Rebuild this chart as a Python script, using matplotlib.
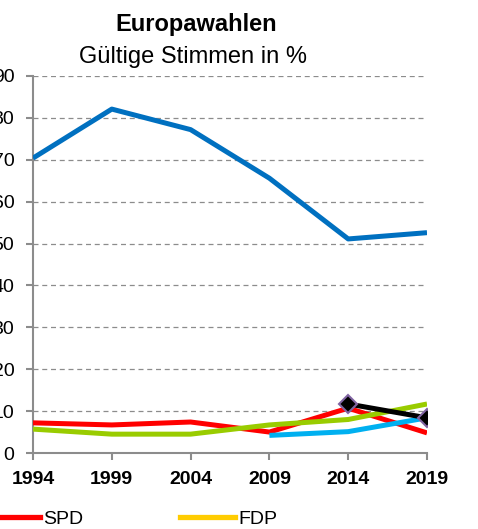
import matplotlib
matplotlib.use("Agg")
import matplotlib.pyplot as plt
from matplotlib.lines import Line2D

plt.rcParams['font.family'] = ['Liberation Sans', 'DejaVu Sans']

years = [1994, 1999, 2004, 2009, 2014, 2019]
blue = [70.4, 82.1, 77.2, 65.6, 51.1, 52.6]
spd = [7.2, 6.7, 7.4, 5.0, 10.7, 4.8]
green = [5.7, 4.5, 4.5, 6.7, 8.0, 11.7]
cyan_years = [2009, 2014, 2019]
cyan = [4.2, 5.1, 8.4]
black_years = [2014, 2019]
black = [11.7, 8.4]
yticks = [0, 10, 20, 30, 40, 50, 60, 70, 80, 90]
legend_labels = ["SPD", "FDP"]

fig = plt.figure(figsize=(4.78, 5.29), dpi=100)
ax = fig.add_axes([33/478, 1-453/529, (427-33)/478, (453-76)/529])

ax.plot(years, blue, color='#0070C0', lw=3.6, solid_capstyle='butt', zorder=3)
ax.plot(years, spd, color='#FF0000', lw=3.6, solid_capstyle='butt', zorder=3)
ax.plot(years, green, color='#99CC00', lw=3.6, solid_capstyle='butt', zorder=4)
ax.plot(cyan_years, cyan, color='#00B0F0', lw=3.6, solid_capstyle='butt', zorder=3)
ax.plot(black_years, black, color='black', lw=3.6, marker='D', markersize=9,
        markerfacecolor='black', markeredgecolor='#8064A2', markeredgewidth=1.5, zorder=5)

ax.set_xlim(1994, 2019)
ax.set_ylim(0, 90)
ax.set_xticks(years)
ax.set_xticklabels([str(y) for y in years], fontweight='bold', fontsize=14)
ax.set_yticks(yticks)
ax.set_yticklabels([str(v) for v in yticks], fontsize=14)
ax.yaxis.grid(True, linestyle=(0, (4, 3)), color='#8C8C8C', lw=0.9)
ax.set_axisbelow(True)
for s in ['top', 'right']:
    ax.spines[s].set_visible(False)
for s in ['left', 'bottom']:
    ax.spines[s].set_color('#8C8C8C')
    ax.spines[s].set_linewidth(1.5)
ax.tick_params(axis='both', direction='out', length=5, width=1.5, color='#8C8C8C')
ax.tick_params(axis='y', pad=8.5)
ax.tick_params(axis='x', pad=8)
ax.set_clip_on(False)

fig.text(196/478, 1-24/529, "Europawahlen", ha='center', va='center', fontsize=17, fontweight='bold')
fig.text(193/478, 1-57/529, "Gültige Stimmen in %", ha='center', va='center', fontsize=17)

handles = [Line2D([], [], color='#FF0000', lw=3.8),
           Line2D([], [], color='#FFCC00', lw=3.8)]
fig.legend(handles, legend_labels, loc='center left', bbox_to_anchor=(-15/478, 1-519/529),
           ncol=2, frameon=False, fontsize=14, handlelength=2.83, handletextpad=0.15,
           columnspacing=5.0, borderpad=0, borderaxespad=0)

fig.savefig("out.png", dpi=100)
